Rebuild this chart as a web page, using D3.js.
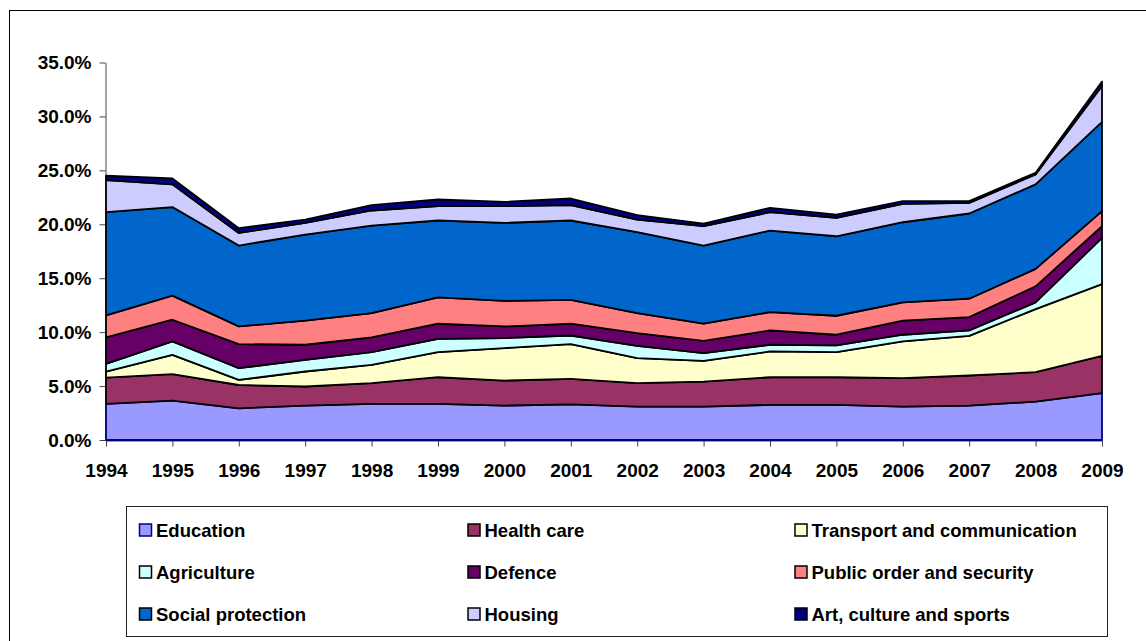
<!DOCTYPE html>
<html>
<head>
<meta charset="utf-8">
<script src="https://cdn.jsdelivr.net/npm/d3@7"></script>
<style>
  html, body { margin: 0; padding: 0; background: #fff; }
  svg { display: block; font-family: "Liberation Sans", Arial, Helvetica, sans-serif; font-weight: bold; }
</style>
</head>
<body>
<svg id="chart" width="1146" height="641"></svg>
<script>
const years = ["1994","1995","1996","1997","1998","1999","2000","2001","2002","2003","2004","2005","2006","2007","2008","2009"];
const seriesNames = ["Education","Health care","Transport and communication","Agriculture","Defence","Public order and security","Social protection","Housing","Art, culture and sports"];
const seriesColors = ["#9999FF","#993366","#FFFFCC","#CCFFFF","#660066","#FF8080","#0066CC","#CCCCFF","#000080"];
const seriesStrokes = ["#000080","#000","#000","#000","#000","#000","#000","#000","#000"];

// values in % of GDP
const education = [3.35,3.65,2.94,3.19,3.35,3.35,3.19,3.31,3.10,3.10,3.26,3.26,3.10,3.19,3.56,4.34];
const healthCare = [2.44,2.45,2.16,1.77,1.92,2.47,2.32,2.36,2.17,2.32,2.56,2.56,2.63,2.79,2.73,3.46];
const transport = [0.56,1.80,0.47,1.39,1.70,2.33,3.01,3.22,2.32,1.92,2.39,2.33,3.41,3.68,5.85,6.66];
const agriculture = [0.71,1.24,1.09,1.08,1.18,1.23,0.93,0.80,1.14,0.71,0.62,0.62,0.62,0.50,0.62,4.28];
const defence = [2.45,2.01,2.23,1.40,1.36,1.40,1.08,1.09,1.18,1.15,1.33,0.99,1.30,1.24,1.49,1.08];
const publicOrder = [2.04,2.23,1.64,2.23,2.26,2.45,2.37,2.22,1.86,1.58,1.70,1.76,1.70,1.70,1.61,1.40];
const socialProtection = [9.57,8.22,7.50,7.99,8.11,7.12,7.23,7.35,7.50,7.25,7.56,7.37,7.43,7.90,7.84,8.27];
const housing = [2.98,2.10,1.17,1.08,1.40,1.33,1.55,1.42,1.17,1.79,1.70,1.71,1.71,0.99,0.92,3.34];
const artCulture = [0.40,0.55,0.44,0.31,0.49,0.62,0.40,0.62,0.40,0.25,0.41,0.30,0.25,0.16,0.16,0.40];
const yTicks = [0,5,10,15,20,25,30,35];

const seriesValues = [education,healthCare,transport,agriculture,defence,publicOrder,socialProtection,housing,artCulture];
const table = years.map((yr,i) => {
  const row = {year: yr};
  seriesNames.forEach((n,j) => row[n] = seriesValues[j][i]);
  return row;
});

const svg = d3.select("#chart");

// outer chart border (extends beyond the viewport on right & bottom)
svg.append("rect").attr("x",9.5).attr("y",10.5).attr("width",1300).attr("height",800)
  .attr("fill","#fff").attr("stroke","#000").attr("stroke-width",1);

const x = d3.scalePoint().domain(years).range([106,1102]);
const y = d3.scaleLinear().domain([0,35]).range([440,62.5]);

// y axis
const yAxis = svg.append("g").attr("transform","translate(105.5,0)")
  .call(d3.axisLeft(y).tickValues(yTicks).tickFormat(d => d.toFixed(1) + "%").tickSize(6).tickSizeOuter(0).tickPadding(8));
yAxis.select(".domain").attr("stroke","#444");
yAxis.selectAll(".tick line").attr("stroke","#444");
yAxis.selectAll(".tick text").attr("font-size",19).attr("font-weight","bold").attr("fill","#000")
  .attr("font-family","'Liberation Sans', Arial, sans-serif");

// x axis
const xAxis = svg.append("g").attr("transform","translate(0,440.5)")
  .call(d3.axisBottom(x).tickSize(6).tickSizeOuter(0).tickPadding(17));
xAxis.select(".domain").attr("stroke","#444");
xAxis.selectAll(".tick line").attr("stroke","#444");
xAxis.selectAll(".tick text").attr("font-size",19).attr("font-weight","bold").attr("fill","#000")
  .attr("font-family","'Liberation Sans', Arial, sans-serif");

// stacked areas
const stack = d3.stack().keys(seriesNames);
const layers = stack(table);
const area = d3.area()
  .x(d => x(d.data.year))
  .y0(d => y(d[0]))
  .y1(d => y(d[1]));

svg.append("g").selectAll("path").data(layers).join("path")
  .attr("d", area)
  .attr("fill", (d,i) => seriesColors[i])
  .attr("stroke", (d,i) => seriesStrokes[i])
  .attr("stroke-width", 1.8)
  .attr("stroke-linejoin","round");

// legend
const lg = svg.append("g");
lg.append("rect").attr("x",126.5).attr("y",506.5).attr("width",981).attr("height",130)
  .attr("fill","#fff").attr("stroke","#222").attr("stroke-width",1);
const colX = [139.5, 468, 795];
const rowY = [530, 572, 614];
seriesNames.forEach((n,i) => {
  const cx = colX[i % 3], cy = rowY[Math.floor(i / 3)];
  lg.append("rect").attr("x",cx).attr("y",cy-6).attr("width",12).attr("height",12)
    .attr("fill",seriesColors[i]).attr("stroke",seriesStrokes[i]).attr("stroke-width",1.5);
  lg.append("text").attr("x",cx+16.5).attr("y",cy+6.5)
    .attr("font-size",18.5).attr("fill","#000").text(n);
});
</script>
</body>
</html>
